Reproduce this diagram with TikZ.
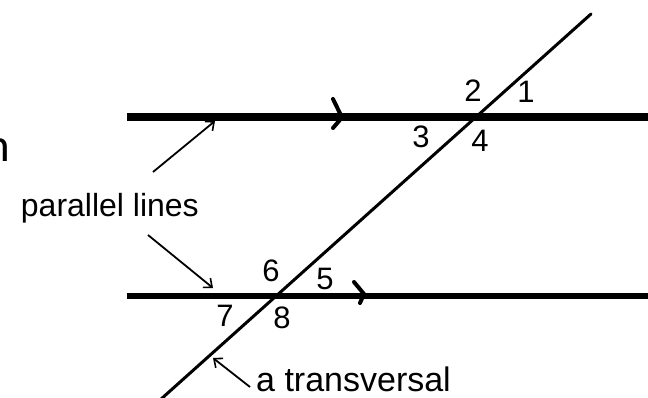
\documentclass[tikz,border=0pt]{standalone}
\usepackage{fontspec}
\setmainfont{Liberation Sans}
\newfontfamily\slidefont{Carlito}
\usetikzlibrary{arrows.meta}
\tikzset{
  parline/.style={line width=#1, line cap=butt},
  transline/.style={line width=3pt, line cap=round},
  chevron/.style={line width=4pt, line cap=round, line join=round},
  pointer/.style={line width=1.8pt, -{Straight Barb[length=7pt,width=12pt,line width=1.6pt]}},
  lbl/.style={font=\fontsize{#1}{#1}\selectfont, inner sep=0pt},
  num/.style={font=\fontsize{31}{31}\selectfont, inner sep=0pt},
}
\begin{document}
\begin{tikzpicture}[x=1pt,y=-1pt]
\clip (0,0) rectangle (648,398);
\useasboundingbox (0,0) rectangle (648,398);
% partial slide text at left edge
\node[font=\slidefont\fontsize{47}{47}\selectfont, anchor=base west, inner sep=0pt] (cut) at (-15,162) {n};
% parallel lines
\coordinate (T1) at (127,117); \coordinate (T2) at (655,117);
\coordinate (B1) at (127,296); \coordinate (B2) at (655,296);
\draw[parline=8pt] (T1) -- (T2);
\draw[parline=6pt] (B1) -- (B2);
% transversal
\coordinate (X1) at (160,400); \coordinate (X2) at (591,14);
\draw[transline] (X1) -- (X2);
% direction chevrons
\coordinate (ca) at (333,99); \coordinate (cb) at (342,117.5); \coordinate (cc) at (333,128);
\draw[chevron] (ca) -- (cb) -- (cc);
\coordinate (da) at (354,282); \coordinate (db) at (364,294); \coordinate (dc) at (360,303);
\draw[chevron] (da) -- (db) -- (dc);
% labels
\node[lbl=32, anchor=base east] (pl) at (199,217) {parallel lines};
\node[lbl=34, anchor=base west] (tr) at (256,391) {a transversal};
\coordinate (p1s) at (153,172); \coordinate (p1e) at (215,121);
\coordinate (p2s) at (148,235); \coordinate (p2e) at (213,288);
\coordinate (p3s) at (250,387); \coordinate (p3e) at (213,358);
\draw[pointer] (p1s) -- (p1e);
\draw[pointer] (p2s) -- (p2e);
\draw[pointer] (p3s) -- (p3e);
% angle numbers
\node[num] (n1) at (526,92) {1};
\node[num] (n2) at (473,91) {2};
\node[num] (n3) at (421,137) {3};
\node[num] (n4) at (480,141) {4};
\node[num] (n5) at (325,279) {5};
\node[num] (n6) at (271,271) {6};
\node[num] (n7) at (225,316) {7};
\node[num] (n8) at (282,318) {8};
\end{tikzpicture}
\end{document}
